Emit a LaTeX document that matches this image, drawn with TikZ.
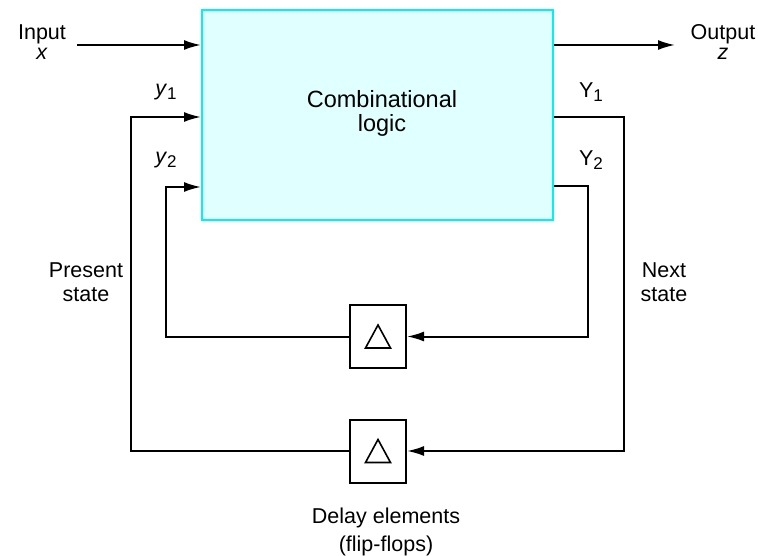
\documentclass[tikz,border=0pt]{standalone}
\usepackage{fontspec}
\setmainfont{Liberation Sans}
\usetikzlibrary{arrows.meta, positioning}
\definecolor{logiccyan}{rgb}{0.88, 1.0, 1.0}
\definecolor{edgecyan}{rgb}{0.0, 0.95, 0.95}
\newcommand{\sub}[1]{\raisebox{-4pt}{\fontsize{17}{17}\selectfont #1}}

\begin{document}
\begin{tikzpicture}[
        x=1pt, y=-1pt,
        logicbox/.style={rectangle, draw=edgecyan, line width=2pt, fill=logiccyan, align=center, minimum width=351pt, minimum height=210pt, inner sep=0pt},
        delaybox/.style={rectangle, draw, line width=2pt, minimum width=56pt, minimum height=63pt, inner sep=0pt,
            path picture={\draw[line width=1.6pt] ([shift={(-12.5,11.5)}]path picture bounding box.center) -- ++(25,0) -- ++(-12.5,-23) -- cycle;}},
        lbl/.style={align=center, inner sep=0pt, font=\fontsize{21.5}{24}\selectfont},
        arrow/.style={-{Latex[length=17pt, width=10pt]}, line width=2pt}
        ]
        \useasboundingbox (0,0) rectangle (758,556);

        % Nodes
        \node (logic) [logicbox] at (377.5,115) {};
        \node (logictext) [lbl, font=\fontsize{23.5}{24}\selectfont] at (382,113) {Combinational\\logic};
        \node (d1) [delaybox] at (378,336.5) {};
        \node (d2) [delaybox] at (378,451) {};

        % Labels
        \node (inlabel) [lbl] at (42,42) {Input\\[-4pt]\textit{x}};
        \node (outlabel) [lbl] at (723,42) {Output\\[-4pt]\textit{z}};
        \node (y1label) [lbl] at (166,92) {\textit{y}\sub{1}};
        \node (y2label) [lbl] at (166,160) {\textit{y}\sub{2}};
        \node (Y1label) [lbl] at (591,92) {Y\sub{1}};
        \node (Y2label) [lbl] at (591,160) {Y\sub{2}};
        \node (present) [lbl] at (86,282) {Present\\state};
        \node (next) [lbl] at (664,282) {Next\\state};
        \node (delays) [lbl, font=\fontsize{21.5}{28}\selectfont, below=24pt of d2, xshift=8pt] {Delay elements\\(flip-flops)};

        % Corners of the loops
        \coordinate (xin) at (77,45);
        \coordinate (zout) at (675,45);
        \coordinate (p1) at (131,117);
        \coordinate (p2) at (166,187);
        \coordinate (q1) at (624,117);
        \coordinate (q2) at (588,186);

        % Arrows
        \draw [arrow] (xin) -- (xin -| logic.west);
        \draw [arrow] (zout -| logic.east) -- (zout);
        \draw [arrow] (d2.west) -| (p1) -- (p1 -| logic.west);
        \draw [arrow] (d1.west) -| (p2) -- (p2 -| logic.west);
        \draw [arrow] (q1 -| logic.east) -- (q1) |- (d2.east);
        \draw [arrow] (q2 -| logic.east) -- (q2) |- (d1.east);

    \end{tikzpicture}
\end{document}
